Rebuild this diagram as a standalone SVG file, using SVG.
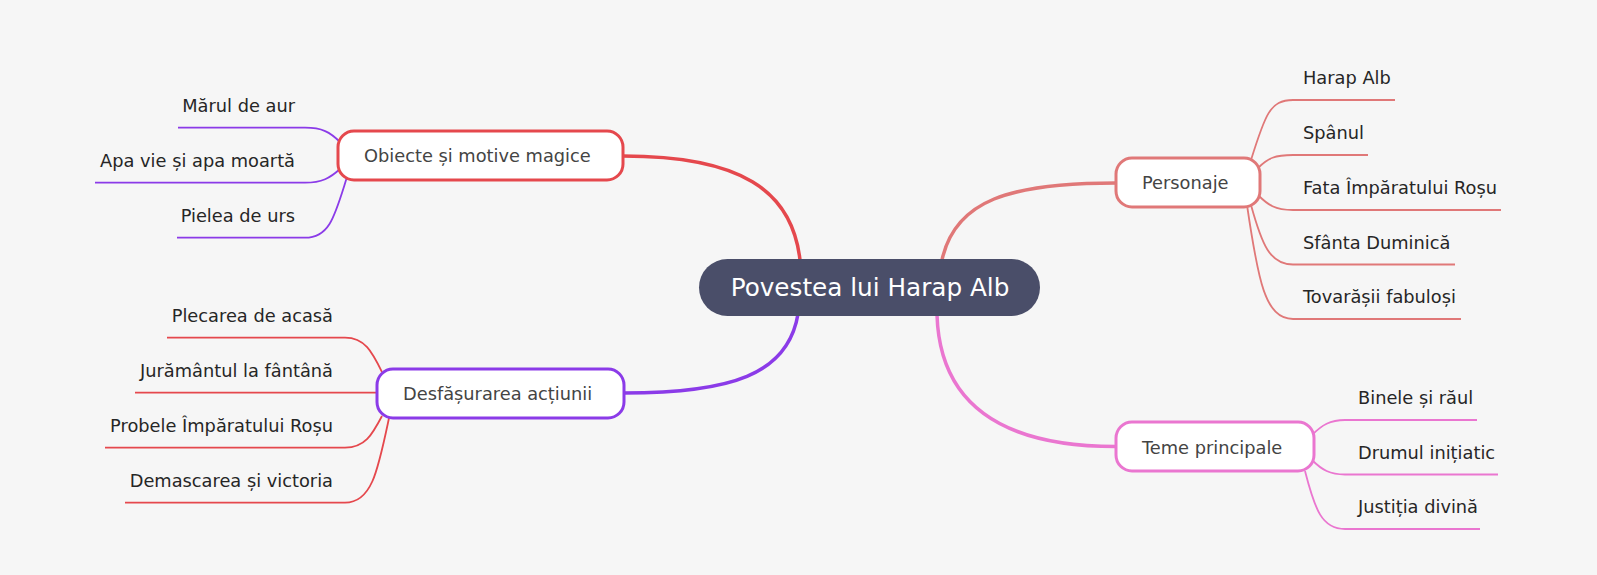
<svg xmlns="http://www.w3.org/2000/svg" width="1597" height="575" viewBox="0 0 1597 575">
<style>
text{font-family:"DejaVu Sans","Noto Sans",sans-serif;font-size:17.8px}
.leaf{fill:#262626}
.nt{fill:#444444}
.node{fill:#ffffff;stroke-width:3}
.main{fill:none;stroke-width:3.5;stroke-linecap:round}
.sub{fill:none;stroke-width:1.8}
.red{stroke:#e5484d}
.pur{stroke:#8b3be8}
.sal{stroke:#e07878}
.pink{stroke:#ea76d0}
.r{text-anchor:end}
</style>
<rect width="1597" height="575" fill="#f6f6f6"/>
<g id="connectors">
<path class="main red" d="M800,260 C792,190 740,156 623,156"/>
<path class="main pur" d="M798,314 C788,375 730,393 624,393"/>
<path class="main sal" d="M942,260 C955,200 1010,183 1116,183"/>
<path class="main pink" d="M937,315 C940,410 1010,446.5 1116,446.5"/>
<path class="sub sal" d="M1251,160 C1265,115 1270,100 1293,100 L1395,100"/>
<path class="sub sal" d="M1258,168 C1268,158 1275,155 1293,155 L1368,155"/>
<path class="sub sal" d="M1258,195 C1268,205 1275,210 1293,210 L1501,210"/>
<path class="sub sal" d="M1251,205 C1262,245 1270,264.5 1293,264.5 L1455,264.5"/>
<path class="sub sal" d="M1247,205 C1258,280 1265,319 1293,319 L1461,319"/>
<path class="sub pink" d="M1312,435 C1322,425 1330,420 1345,420 L1477,420"/>
<path class="sub pink" d="M1312,460 C1322,470 1330,474.5 1345,474.5 L1498,474.5"/>
<path class="sub pink" d="M1305,471 C1315,510 1322,529 1345,529 L1480,529"/>
<path class="sub pur" d="M340,142 C330,132 322,127.7 305,127.7 L178,127.7"/>
<path class="sub pur" d="M340,169 C330,178 322,182.7 305,182.7 L95,182.7"/>
<path class="sub pur" d="M347,177 C335,215 330,237.7 305,237.7 L177,237.7"/>
<path class="sub red" d="M382,372 C372,352 365,337.7 345,337.7 L167,337.7"/>
<path class="sub red" d="M376,392.7 L135,392.7"/>
<path class="sub red" d="M382,416 C372,435 365,447.7 345,447.7 L105,447.7"/>
<path class="sub red" d="M389,418 C378,470 372,502.7 345,502.7 L125,502.7"/>
</g>
<g id="root">
<rect x="699" y="259" width="341" height="57" rx="28.5" fill="#4a4e69"/>
<text x="870" y="296" text-anchor="middle" style="font-size:24.7px" fill="#ffffff">Povestea lui Harap Alb</text>
</g>
<g id="personaje">
<rect class="node sal" x="1116" y="158" width="144" height="49" rx="16"/>
<text class="nt" x="1142" y="188.5">Personaje</text>
</g>
<g id="teme">
<rect class="node pink" x="1116" y="422" width="198" height="49" rx="16"/>
<text class="nt" x="1142" y="453.5">Teme principale</text>
</g>
<g id="obiecte">
<rect class="node red" x="338" y="131" width="285" height="49" rx="16"/>
<text class="nt" x="364" y="162">Obiecte și motive magice</text>
</g>
<g id="desfasurarea">
<rect class="node pur" x="377" y="369" width="247" height="49" rx="16"/>
<text class="nt" x="403" y="400">Desfășurarea acțiunii</text>
</g>
<g id="leaf-harap"><text class="leaf" x="1303" y="84">Harap Alb</text></g>
<g id="leaf-spanul"><text class="leaf" x="1303" y="139">Spânul</text></g>
<g id="leaf-fata"><text class="leaf" x="1303" y="194">Fata Împăratului Roșu</text></g>
<g id="leaf-sfanta"><text class="leaf" x="1303" y="248.5">Sfânta Duminică</text></g>
<g id="leaf-tovarasii"><text class="leaf" x="1303" y="303">Tovarășii fabuloși</text></g>
<g id="leaf-binele"><text class="leaf" x="1358" y="403.5">Binele și răul</text></g>
<g id="leaf-drumul"><text class="leaf" x="1358" y="458.5">Drumul inițiatic</text></g>
<g id="leaf-justitia"><text class="leaf" x="1358" y="513">Justiția divină</text></g>
<g id="leaf-marul"><text class="leaf r" x="295" y="112">Mărul de aur</text></g>
<g id="leaf-apa"><text class="leaf r" x="295" y="167">Apa vie și apa moartă</text></g>
<g id="leaf-pielea"><text class="leaf r" x="295" y="222">Pielea de urs</text></g>
<g id="leaf-plecarea"><text class="leaf r" x="333" y="322">Plecarea de acasă</text></g>
<g id="leaf-juramantul"><text class="leaf r" x="333" y="377">Jurământul la fântână</text></g>
<g id="leaf-probele"><text class="leaf r" x="333" y="432">Probele Împăratului Roșu</text></g>
<g id="leaf-demascarea"><text class="leaf r" x="333" y="487">Demascarea și victoria</text></g>
</svg>
